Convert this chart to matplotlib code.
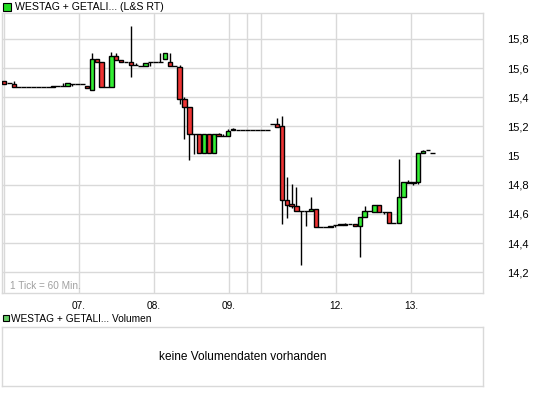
import matplotlib
matplotlib.use('Agg')
from matplotlib import rcParams
from matplotlib import pyplot as plt
from matplotlib.patches import Rectangle
import numpy as np

# hourly candles (L&S RT), one slot per hour
opens = [15.511, 15.497, 15.490, 15.470, 15.470, 15.470, 15.470, 15.470, 15.470, 15.470,
         15.475, 15.479, 15.479, 15.479, 15.492, 15.492, 15.492, 15.476, 15.447, 15.661,
         15.640, 15.470, 15.470, 15.681, 15.654, 15.640, 15.640, 15.620, 15.615, 15.613,
         15.640, 15.640, 15.640, 15.661, 15.640, 15.611, 15.606, 15.385, 15.333, 15.150,
         15.150, 15.018, 15.150, 15.018, 15.150, 15.132, 15.135, 15.173, 15.175, 15.175,
         15.175, 15.175, 15.175, 15.175, 15.175, 15.219, 15.219, 15.203, 14.697, 14.665,
         14.656, 14.622, 14.622, 14.622, 14.636, 14.512, 14.512, 14.512, 14.521, 14.521,
         14.533, 14.533, 14.533, 14.519, 14.581, 14.619, 14.615, 14.660, 14.615, 14.615,
         14.540, 14.540, 14.718, 14.820, 14.809, 14.820, 15.020, 15.036, 15.020]
highs = [15.511, 15.497, 15.511, 15.470, 15.470, 15.470, 15.470, 15.470, 15.470, 15.470,
         15.475, 15.479, 15.495, 15.499, 15.492, 15.492, 15.492, 15.476, 15.704, 15.661,
         15.640, 15.470, 15.709, 15.704, 15.654, 15.640, 15.891, 15.636, 15.615, 15.634,
         15.640, 15.640, 15.704, 15.704, 15.704, 15.611, 15.624, 15.400, 15.333, 15.150,
         15.150, 15.150, 15.150, 15.150, 15.157, 15.150, 15.185, 15.190, 15.175, 15.175,
         15.175, 15.175, 15.175, 15.175, 15.175, 15.219, 15.260, 15.269, 14.850, 14.802,
         14.786, 14.622, 14.622, 14.718, 14.636, 14.512, 14.512, 14.519, 14.521, 14.533,
         14.540, 14.533, 14.533, 14.581, 14.656, 14.619, 14.660, 14.660, 14.615, 14.615,
         14.540, 14.973, 14.820, 14.830, 14.820, 15.020, 15.041, 15.036, 15.020]
lows = [15.490, 15.497, 15.470, 15.470, 15.470, 15.470, 15.470, 15.470, 15.470, 15.470,
        15.470, 15.479, 15.479, 15.479, 15.474, 15.492, 15.492, 15.463, 15.447, 15.640,
        15.470, 15.470, 15.470, 15.654, 15.640, 15.640, 15.536, 15.620, 15.615, 15.613,
        15.613, 15.640, 15.640, 15.661, 15.611, 15.611, 15.351, 15.116, 14.968, 15.014,
        15.018, 15.018, 15.018, 15.018, 15.132, 15.132, 15.135, 15.173, 15.175, 15.175,
        15.175, 15.175, 15.175, 15.175, 15.175, 15.219, 15.196, 14.528, 14.574, 14.642,
        14.622, 14.250, 14.517, 14.622, 14.512, 14.512, 14.512, 14.512, 14.512, 14.521,
        14.521, 14.533, 14.514, 14.305, 14.581, 14.619, 14.615, 14.615, 14.599, 14.540,
        14.540, 14.540, 14.718, 14.809, 14.800, 14.804, 15.020, 15.036, 15.020]
closes = [15.490, 15.497, 15.470, 15.470, 15.470, 15.470, 15.470, 15.470, 15.470, 15.470,
          15.470, 15.479, 15.479, 15.499, 15.492, 15.492, 15.492, 15.463, 15.661, 15.640,
          15.470, 15.470, 15.681, 15.654, 15.640, 15.640, 15.620, 15.620, 15.615, 15.634,
          15.640, 15.640, 15.640, 15.704, 15.611, 15.611, 15.385, 15.333, 15.151, 15.150,
          15.018, 15.150, 15.018, 15.150, 15.132, 15.132, 15.169, 15.180, 15.175, 15.175,
          15.175, 15.175, 15.175, 15.175, 15.175, 15.219, 15.196, 14.697, 14.660, 14.653,
          14.622, 14.622, 14.622, 14.636, 14.512, 14.512, 14.512, 14.519, 14.521, 14.533,
          14.521, 14.533, 14.519, 14.581, 14.619, 14.619, 14.660, 14.615, 14.615, 14.540,
          14.540, 14.718, 14.820, 14.809, 14.820, 15.020, 15.028, 15.036, 15.020]

# day separators (in hour slots) and their labels
day_pos = [-0.06, 15.34, 30.74, 46.14, 49.84, 52.71, 68.11, 83.51]
day_labels = ['', '07.', '08.', '09.', '', '', '12.', '13.']
y_ticks = [14.2, 14.4, 14.6, 14.8, 15.0, 15.2, 15.4, 15.6, 15.8]
y_labels = ['14,2', '14,4', '14,6', '14,8', '15', '15,2', '15,4', '15,6', '15,8']

title = 'WESTAG + GETALI... (L&S RT)'
vol_title = 'WESTAG + GETALI... Volumen'
vol_note = 'keine Volumendaten vorhanden'

rcParams['font.family'] = ['Liberation Sans', 'DejaVu Sans']

W, H = 545, 395
fig = plt.figure(figsize=(W / 100, H / 100), dpi=100)

def fx(px):
    return px / W

def fy(py):
    return 1 - py / H

grid_c = '#d9d9d9'
green = '#33ee33'
red = '#ee3333'

ax = fig.add_axes([fx(2), fy(293), fx(481), 280 / H])
o = np.array(opens)
c = np.array(closes)
hi = np.array(highs)
lo = np.array(lows)
x = np.arange(len(o))

# wicks
wick = hi > lo
ax.vlines(x[wick], lo[wick], hi[wick], color='black', lw=1, zorder=2)
# bodies
body = np.abs(c - o) > 0.0005
cols = np.where(c > o, green, red)
ax.bar(x[body], np.abs(c - o)[body], bottom=np.minimum(o, c)[body], width=0.9,
       color=cols[body], edgecolor='black', linewidth=1, zorder=3)
# flat candles
flat = ~body
ax.hlines(o[flat], x[flat] - 0.5, x[flat] + 0.5, color='black', lw=1, zorder=3)

ax.set_xlim(-0.47, 98.3)
ax.set_ylim(14.058, 15.977)
ax.set_xticks(day_pos)
ax.set_xticklabels(day_labels, fontsize=7.3)
ax.set_yticks(y_ticks)
ax.set_yticklabels(y_labels, fontsize=8)
ax.yaxis.tick_right()
ax.tick_params(axis='both', length=0)
ax.tick_params(axis='x', pad=6)
ax.tick_params(axis='y', pad=17)
ax.grid(True, color=grid_c, lw=1, zorder=0)
ax.set_axisbelow(True)
for s in ax.spines.values():
    s.set_color(grid_c)
    s.set_linewidth(1)
ax.text(fx(10), fy(286), '1 Tick = 60 Min.', transform=fig.transFigure,
        fontsize=7.2, color='#a0a0a0', va='center', ha='left')

# header
fig.patches.append(Rectangle((fx(3), fy(11)), fx(8), 8 / H, transform=fig.transFigure,
                             facecolor='#22dd22', edgecolor='black', lw=0.8))
fig.text(fx(15), fy(7), title, fontsize=7.6, va='center', ha='left')

# volume panel
fig.patches.append(Rectangle((fx(3), fy(321)), fx(6), 6 / H, transform=fig.transFigure,
                             facecolor='#66cc66', edgecolor='black', lw=0.8))
fig.text(fx(11), fy(318.5), vol_title, fontsize=7.3, va='center', ha='left')
ax2 = fig.add_axes([fx(2), fy(386), fx(481), 59 / H])
ax2.set_xticks([])
ax2.set_yticks([])
for s in ax2.spines.values():
    s.set_color(grid_c)
    s.set_linewidth(1)
ax2.text(0.5, 0.5, vol_note, transform=ax2.transAxes, ha='center', va='center', fontsize=8.6)

plt.savefig('out.png', dpi=100)
